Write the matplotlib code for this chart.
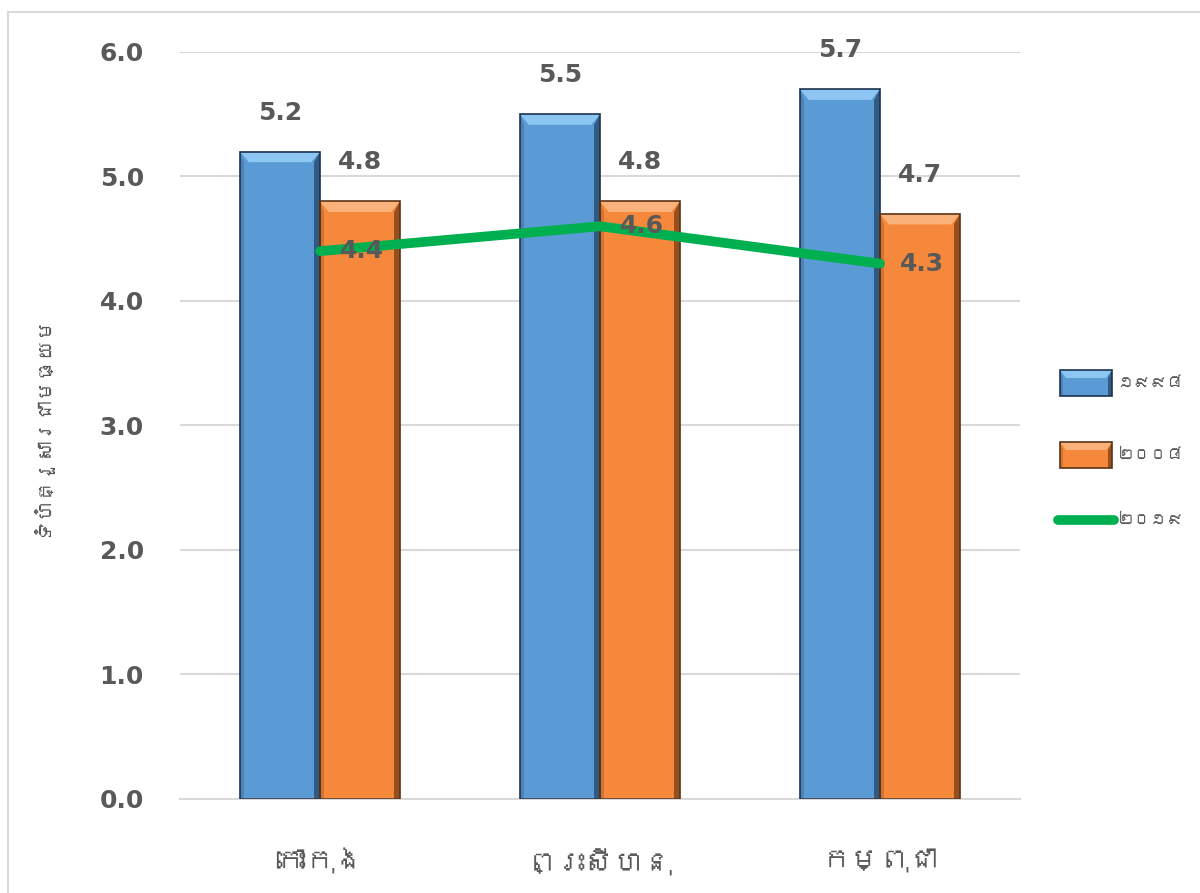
import numpy as np
import matplotlib
matplotlib.use('Agg')
import matplotlib.pyplot as plt
from matplotlib import font_manager
from matplotlib.ft2font import FT2Font
from matplotlib.patches import Polygon, Rectangle

# data
categories = ['កោះកុង', 'ព្រះសីហនុ', 'កម្ពុជា']
series_names = ['១៩៩៨', '២០០៨', '២០១៩']
vals_1998 = [5.2, 5.5, 5.7]
vals_2008 = [4.8, 4.8, 4.7]
vals_2019 = [4.4, 4.6, 4.3]
yticks = [0.0, 1.0, 2.0, 3.0, 4.0, 5.0, 6.0]
ylabel = 'ទំហំគ្រួសារជាមធ្យម'


def find_khmer_font():
    # look for any installed font that covers the Khmer block
    for f in font_manager.fontManager.ttflist:
        try:
            cmap = FT2Font(f.fname).get_charmap()
        except Exception:
            continue
        if 0x1780 in cmap and 0x1799 in cmap:
            return f.name
    return None


khmer = find_khmer_font()
fams = ['DejaVu Sans'] if khmer is None else [khmer, 'DejaVu Sans']
plt.rcParams['font.family'] = fams

grey = '#595959'
blue = '#5B9BD5'
orange = '#F5883A'
green = '#00B050'


def bevel(ax, x0, y0, w, h, bx, by, face, light, dark, edge, transform=None):
    # flat face plus light top / dark right bevel strips
    kw = {} if transform is None else {'transform': transform}
    x1, y1 = x0 + w, y0 + h
    ax.add_patch(Rectangle((x0, y0), w, h, facecolor=face, edgecolor='none', zorder=2, **kw))
    ax.add_patch(Polygon([[x0, y1], [x1, y1], [x1 - bx, y1 - by], [x0 + bx, y1 - by]],
                         closed=True, facecolor=light, edgecolor='none', zorder=3, **kw))
    ax.add_patch(Polygon([[x1, y1], [x1, y0], [x1 - bx * 0.7, y0], [x1 - bx * 0.7, y1 - by]],
                         closed=True, facecolor=dark, edgecolor='none', zorder=3, alpha=0.55, **kw))
    ax.add_patch(Polygon([[x0, y1], [x0, y0], [x0 + bx * 0.5, y0], [x0 + bx * 0.5, y1 - by]],
                         closed=True, facecolor=dark, edgecolor='none', zorder=3, alpha=0.2, **kw))
    ax.add_patch(Rectangle((x0, y0), w, h, facecolor='none', edgecolor=edge,
                           linewidth=1.2, zorder=4, **kw))


fig = plt.figure(figsize=(12, 8.93), dpi=100)
ax = fig.add_axes([0.15, 0.1053, 0.70, 0.8365])

# chart border (top and left visible)
fig.patches.append(Rectangle((8 / 1200, -0.1), 1.2, (893 - 12) / 893 + 0.1,
                             transform=fig.transFigure, facecolor='none',
                             edgecolor='#D9D9D9', linewidth=1.5))

x = np.arange(len(categories))
bw = 0.2857
bx = bw * 0.11
by = 0.085

for i in range(len(categories)):
    bevel(ax, x[i] - bw, 0, bw, vals_1998[i], bx, by, blue, '#8DC6F2', '#0F2540', '#1E3350')
    bevel(ax, x[i], 0, bw, vals_2008[i], bx, by, orange, '#FBB27A', '#4A2008', '#5A3418')
    ax.annotate(f'{vals_1998[i]:.1f}', (x[i] - bw / 2, vals_1998[i]), xytext=(0, 28),
                textcoords='offset points', ha='center', va='center',
                fontsize=18, fontweight='bold', color=grey, family='DejaVu Sans')
    ax.annotate(f'{vals_2008[i]:.1f}', (x[i] + bw / 2, vals_2008[i]), xytext=(0, 28),
                textcoords='offset points', ha='center', va='center',
                fontsize=18, fontweight='bold', color=grey, family='DejaVu Sans')

ax.plot(x, vals_2019, color=green, linewidth=7, solid_capstyle='round', zorder=5)
for i in range(len(categories)):
    ax.annotate(f'{vals_2019[i]:.1f}', (x[i], vals_2019[i]), xytext=(14, 0),
                textcoords='offset points', ha='left', va='center',
                fontsize=18, fontweight='bold', color=grey, family='DejaVu Sans', zorder=6)

ax.set_xlim(-0.5, len(categories) - 0.5)
ax.set_ylim(0, 6)
ax.set_yticks(yticks)
ax.set_yticklabels([f'{t:.1f}' for t in yticks], fontsize=18, fontweight='bold',
                   color=grey, family='DejaVu Sans')
ax.set_xticks(x)
ax.set_xticklabels(categories, fontsize=21, color=grey)
ax.tick_params(axis='both', length=0)
ax.tick_params(axis='y', pad=26)
ax.tick_params(axis='x', pad=36)
ax.yaxis.grid(True, color='#D9D9D9', linewidth=1.5, zorder=0)
ax.set_axisbelow(True)
for s in ['top', 'right', 'left']:
    ax.spines[s].set_visible(False)
ax.spines['bottom'].set_color('#D9D9D9')
ax.spines['bottom'].set_linewidth(1.5)

fig.text(40 / 1200, 1 - 425 / 893, ylabel, rotation=90, ha='center', va='center',
         fontsize=14.5, color=grey)

# legend drawn by hand in figure-fraction space to the right of the plot
lx0, lx1 = 1060 / 1200, 1112 / 1200
ly = [1 - 383 / 893, 1 - 455 / 893, 1 - 520 / 893]
ph = 26 / 893
fig_ax = fig.add_axes([0, 0, 1, 1], facecolor='none')
fig_ax.set_axis_off()
fig_ax.set_xlim(0, 1)
fig_ax.set_ylim(0, 1)
bevel(fig_ax, lx0, ly[0] - ph / 2, lx1 - lx0, ph, 6 / 1200, 8 / 893,
      blue, '#8DC6F2', '#0F2540', '#1E3350')
bevel(fig_ax, lx0, ly[1] - ph / 2, lx1 - lx0, ph, 6 / 1200, 8 / 893,
      orange, '#FBB27A', '#4A2008', '#5A3418')
fig_ax.plot([1058 / 1200, 1114 / 1200], [ly[2], ly[2]], color=green, linewidth=7,
            solid_capstyle='round')
for k in range(3):
    fig_ax.text(1118 / 1200, ly[k], series_names[k], ha='left', va='center',
                fontsize=12, color=grey)

fig.savefig('out.png', dpi=100, facecolor='white')
